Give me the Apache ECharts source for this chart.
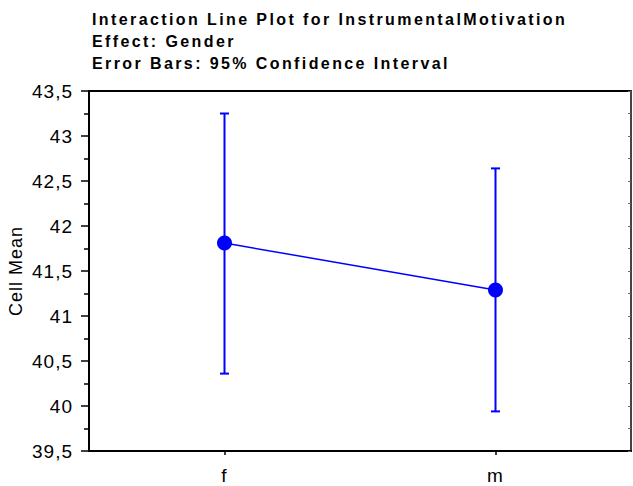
<!DOCTYPE html>
<html>
<head>
<meta charset="utf-8">
<script src="https://cdn.jsdelivr.net/npm/echarts@6/dist/echarts.min.js"></script>
<style>
  html, body { margin: 0; padding: 0; background: #fff; }
  #chart { width: 633px; height: 486px; }
  /* looser tracking, as in the classic stats-package output */
  #chart svg text { letter-spacing: 1px; }
  #chart svg text[style*="bold"], #chart svg text[font-weight="bold"] { letter-spacing: 2.4px; }
</style>
</head>
<body>
<div id="chart"></div>
<script>
// Gender groups and InstrumentalMotivation cell means with 95% CI bounds
const categories = ['f', 'm'];
const cellMeans = [41.81, 41.29];
const ciLower = [40.36, 39.94];
const ciUpper = [43.25, 42.64];
const titleLines = [
  'Interaction Line Plot for InstrumentalMotivation',
  'Effect: Gender',
  'Error Bars: 95% Confidence Interval'
];

const blue = '#0000FF';
const fontFamily = 'Liberation Sans, Arial, sans-serif';
const fmt = v => String(v).replace('.', ',');

const chart = echarts.init(document.getElementById('chart'), null, { renderer: 'svg' });

chart.setOption({
  animation: false,
  backgroundColor: '#ffffff',
  textStyle: { fontFamily: fontFamily },
  title: {
    text: titleLines.join('\n'),
    left: 87,
    top: 3,
    textStyle: {
      fontFamily: fontFamily,
      fontSize: 16,
      fontWeight: 'bold',
      color: '#000',
      lineHeight: 22
    }
  },
  grid: {
    left: 89, right: 2, top: 91, bottom: 35,
    containLabel: false,
    outerBoundsMode: 'none',
    show: true,
    borderColor: '#000',
    borderWidth: 2,
    backgroundColor: '#fff'
  },
  xAxis: {
    type: 'category',
    data: categories,
    boundaryGap: true,
    axisLine: { show: true, lineStyle: { color: '#000', width: 2 } },
    axisTick: { show: true, alignWithLabel: true, length: 4, lineStyle: { color: '#000', width: 1.5 } },
    axisLabel: { color: '#000', fontSize: 19, margin: 15 },
    splitLine: { show: false }
  },
  yAxis: [{
    type: 'value',
    min: 39.5,
    max: 43.5,
    interval: 0.5,
    name: 'Cell Mean',
    nameLocation: 'middle',
    nameGap: 61,
    nameRotate: 90,
    nameTextStyle: { color: '#000', fontSize: 18 },
    axisLine: { show: true, lineStyle: { color: '#000', width: 2 } },
    axisTick: { show: true, length: 8, lineStyle: { color: '#000', width: 1.5 } },
    minorTick: { show: true, splitNumber: 2, length: 5, lineStyle: { color: '#000', width: 1.5 } },
    axisLabel: { color: '#000', fontSize: 19, margin: 16, formatter: v => fmt(v) },
    splitLine: { show: false }
  }, {
    type: 'value',
    position: 'right',
    min: 39.5,
    max: 43.5,
    interval: 0.5,
    axisLine: { show: true, lineStyle: { color: '#444', width: 2 } },
    axisTick: { show: true, inside: true, length: 3, lineStyle: { color: '#666', width: 1 } },
    minorTick: { show: true, splitNumber: 2, length: 3, lineStyle: { color: '#666', width: 1 } },
    axisLabel: { show: false },
    splitLine: { show: false }
  }],
  series: [
    {
      // Vertical confidence-interval bars with short caps
      type: 'custom',
      data: categories.map((c, i) => [i, ciLower[i], ciUpper[i]]),
      renderItem: function (params, api) {
        const x = api.value(0);
        const lo = api.coord([x, api.value(1)]);
        const hi = api.coord([x, api.value(2)]);
        const half = 4.5;
        const style = { stroke: blue, lineWidth: 2 };
        return {
          type: 'group',
          children: [
            { type: 'line', shape: { x1: lo[0], y1: lo[1], x2: hi[0], y2: hi[1] }, style: style },
            { type: 'line', shape: { x1: hi[0] - half, y1: hi[1], x2: hi[0] + half, y2: hi[1] }, style: style },
            { type: 'line', shape: { x1: lo[0] - half, y1: lo[1], x2: lo[0] + half, y2: lo[1] }, style: style }
          ]
        };
      },
      z: 2
    },
    {
      type: 'line',
      data: cellMeans,
      symbol: 'circle',
      symbolSize: 15,
      lineStyle: { color: blue, width: 1.5 },
      itemStyle: { color: blue },
      z: 3
    }
  ]
});
</script>
</body>
</html>
